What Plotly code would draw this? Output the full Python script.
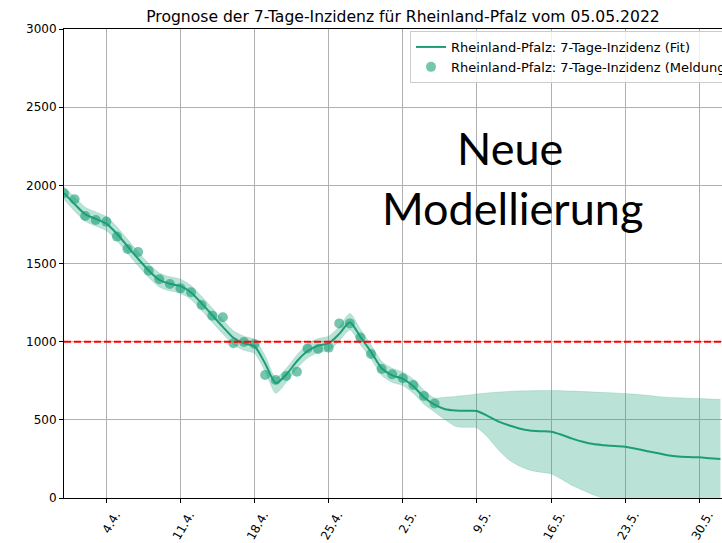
import plotly.graph_objects as go
import pandas as pd

# ---- data ----
start_date = "2022-03-31"
meldung = [1949, 1911, 1804, 1778, 1768, 1672, 1593, 1574, 1454, 1399,
           1369, 1341, 1316, 1235, 1166, 1156, 990, 998, 985, 787,
           755, 780, 808, 957, 953, 962, 1117, 1117, 1026, 921,
           825, 791, 766, 723, 652, 605]
fit = [1950, 1880, 1815, 1785, 1755, 1690, 1610, 1530, 1455, 1395,
       1370, 1355, 1315, 1245, 1170, 1095, 1025, 990, 970, 860,
       735, 790, 875, 940, 975, 990, 1050, 1125, 1030, 935,
       830, 785, 762, 715, 645, 597, 568, 560, 558, 557,
       525, 490, 465, 445, 432, 427, 424, 405, 380, 360,
       345, 338, 332, 328, 315, 301, 288, 274, 265, 262,
       260, 255, 250]
fit_upper = [1990, 1925, 1860, 1830, 1800, 1735, 1655, 1575, 1500, 1440,
             1415, 1400, 1360, 1290, 1215, 1140, 1070, 1035, 1015, 910,
             770, 830, 915, 985, 1020, 1035, 1095, 1180, 1080, 980,
             875, 830, 805, 760, 690, 640, 645, 650, 657, 665,
             672, 678, 682, 685, 686, 687, 687, 686, 684, 681,
             678, 675, 672, 668, 663, 657, 650, 645, 641, 638,
             636, 633, 631]
fit_lower = [1910, 1835, 1770, 1740, 1710, 1645, 1565, 1485, 1410, 1350,
             1325, 1310, 1270, 1200, 1125, 1050, 980, 945, 925, 810,
             670, 740, 830, 895, 930, 945, 1005, 1075, 980, 890,
             785, 740, 720, 670, 600, 550, 500, 458, 452, 448,
             390, 310, 245, 205, 178, 165, 155, 120, 80, 50,
             20, -5, -30, -55, -80, -100, -120, -140, -160, -175,
             -190, -200, -210]
threshold = 1000
tick_dates = ["2022-04-04", "2022-04-11", "2022-04-18", "2022-04-25", "2022-05-02",
              "2022-05-09", "2022-05-16", "2022-05-23", "2022-05-30"]
tick_labels = ["4.4.", "11.4.", "18.4.", "25.4.", "2.5.", "9.5.", "16.5.", "23.5.", "30.5."]
y_ticks = [0, 500, 1000, 1500, 2000, 2500, 3000]
x_range = ["2022-03-31 00:00", "2022-06-01 03:36"]

dates_m = pd.date_range(start_date, periods=len(meldung), freq="D")
dates_f = pd.date_range(start_date, periods=len(fit), freq="D")

GREEN = "#1b9e77"
FONT = "DejaVu Sans"

fig = go.Figure()
fig.add_trace(go.Scatter(x=dates_f, y=fit_upper, mode="lines",
                         line=dict(width=0.6, color="rgba(27,158,119,0.3)", shape="spline", smoothing=0.7),
                         showlegend=False, hoverinfo="skip"))
fig.add_trace(go.Scatter(x=dates_f, y=fit_lower, mode="lines",
                         line=dict(width=0.6, color="rgba(27,158,119,0.3)", shape="spline", smoothing=0.7),
                         fill="tonexty", fillcolor="rgba(27,158,119,0.3)",
                         showlegend=False, hoverinfo="skip"))
fig.add_hline(y=threshold, line=dict(color="red", width=2, dash="7px,3px"))
fig.add_trace(go.Scatter(x=dates_f, y=fit, mode="lines",
                         line=dict(color=GREEN, width=2, shape="spline", smoothing=0.7),
                         name="Rheinland-Pfalz: 7-Tage-Inzidenz (Fit)"))
fig.add_trace(go.Scatter(x=dates_m, y=meldung, mode="markers",
                         marker=dict(color=GREEN, size=10, opacity=0.6, line=dict(width=0)),
                         name="Rheinland-Pfalz: 7-Tage-Inzidenz (Meldung)"))

fig.add_annotation(text="Neue", xref="paper", yref="paper",
                   x=(510 - 64) / 658, y=(498 - 148) / 469, xanchor="center", yanchor="middle",
                   showarrow=False, font=dict(family="Lato", size=45, color="black"))
fig.add_annotation(text="Modellierung", xref="paper", yref="paper",
                   x=(512.8 - 64) / 658, y=(498 - 208) / 469, xanchor="center", yanchor="middle",
                   showarrow=False, font=dict(family="Lato", size=45, color="black"))

fig.update_layout(
    width=722, height=543,
    margin=dict(l=64, r=0, t=29, b=45, autoexpand=False),
    paper_bgcolor="white", plot_bgcolor="white",
    font=dict(family=FONT, size=12, color="black"),
    title=dict(text="Prognose der 7-Tage-Inzidenz für Rheinland-Pfalz vom 05.05.2022",
               xref="container", x=403 / 722, xanchor="center",
               yref="container", y=1 - 17 / 543, yanchor="middle",
               font=dict(family=FONT, size=15.6, color="black")),
    legend=dict(x=(410 - 64) / 658, y=(498 - 31) / 469, xanchor="left", yanchor="top",
                traceorder="normal",
                bgcolor="rgba(255,255,255,0.8)", bordercolor="#cccccc", borderwidth=1,
                font=dict(family=FONT, size=13, color="black")),
    showlegend=True,
)
fig.update_xaxes(range=x_range, tickvals=pd.to_datetime(tick_dates), ticktext=tick_labels,
                 tickangle=-60, ticklabelshift=9, showgrid=True, gridcolor="#b0b0b0", gridwidth=0.8,
                 showline=True, linecolor="black", linewidth=1, mirror=True,
                 ticks="outside", ticklen=4, tickcolor="black", zeroline=False,
                 tickfont=dict(family=FONT, size=12, color="black"))
fig.update_yaxes(range=[0, 3000], tickvals=y_ticks, showgrid=True, gridcolor="#b0b0b0",
                 gridwidth=0.8, showline=True, linecolor="black", linewidth=1,
                 ticks="outside", ticklen=4, tickcolor="black", zeroline=False,
                 tickfont=dict(family=FONT, size=12, color="black"))

fig.write_html("out.html", config={"displayModeBar": False},
               post_script="document.body.style.margin='0px';")
